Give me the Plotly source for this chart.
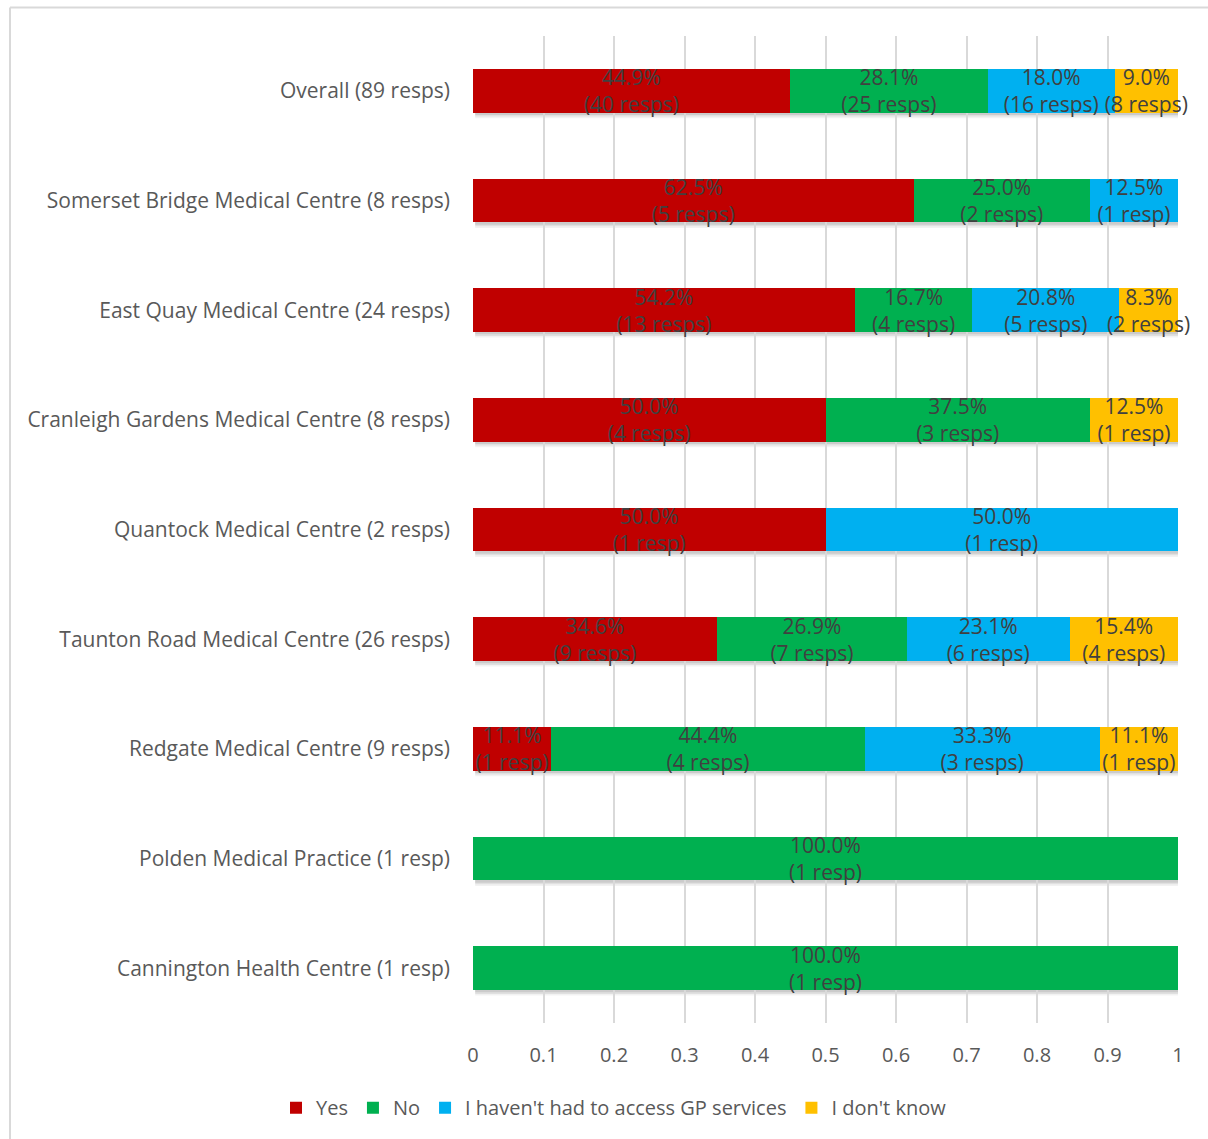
import plotly.graph_objects as go

categories = [
    "Overall (89 resps)",
    "Somerset Bridge Medical Centre (8 resps)",
    "East Quay Medical Centre (24 resps)",
    "Cranleigh Gardens Medical Centre (8 resps)",
    "Quantock Medical Centre (2 resps)",
    "Taunton Road Medical Centre (26 resps)",
    "Redgate Medical Centre (9 resps)",
    "Polden Medical Practice (1 resp)",
    "Cannington Health Centre (1 resp)",
]
totals = [89, 8, 24, 8, 2, 26, 9, 1, 1]
yes_counts = [40, 5, 13, 4, 1, 9, 1, 0, 0]
no_counts = [25, 2, 4, 3, 0, 7, 4, 1, 1]
not_accessed_counts = [16, 1, 5, 0, 1, 6, 3, 0, 0]
dont_know_counts = [8, 0, 2, 1, 0, 4, 1, 0, 0]

series = [
    ("Yes", yes_counts, "#C00000"),
    ("No", no_counts, "#00B050"),
    ("I haven't had to access GP services", not_accessed_counts, "#00B0F0"),
    ("I don't know", dont_know_counts, "#FFC000"),
]
x_ticks = [0, 0.1, 0.2, 0.3, 0.4, 0.5, 0.6, 0.7, 0.8, 0.9, 1]
x_tick_labels = ["0", "0.1", "0.2", "0.3", "0.4", "0.5", "0.6", "0.7", "0.8", "0.9", "1"]

FONT = "Open Sans"
FS = 21
W, H = 1208, 1139
L, R, T, B = 473, 30, 36, 114

fig = go.Figure()
for name, counts, color in series:
    shares = [c / t for c, t in zip(counts, totals)]
    texts = [
        (f"{s*100:.1f}%<br>({c} {'resp' if c == 1 else 'resps'})" if c > 0 else "")
        for s, c in zip(shares, counts)
    ]
    fig.add_trace(go.Bar(
        y=categories, x=shares, name=name, orientation="h",
        marker=dict(color=color, line=dict(width=0)),
        text=texts, textposition="inside", insidetextanchor="middle",
        constraintext="none", textangle=0, cliponaxis=False,
        insidetextfont=dict(family=FONT, size=FS, color="#404040"),
        hoverinfo="skip",
    ))

# soft drop shadows under each bar
shapes = []
for i, t in enumerate(totals):
    for k, (off, a) in enumerate([(0.05, 0.05), (0.035, 0.07), (0.02, 0.09)]):
        shapes.append(dict(type="rect", xref="x", yref="y", layer="below",
                           x0=0.003, x1=1.0 + 0.003, y0=i - 0.2 + off, y1=i + 0.2 + off,
                           fillcolor=f"rgba(0,0,0,{a})", line=dict(width=0)))

# chart border (top and left visible)
ph = H - T - B
pw = W - L - R
shapes.append(dict(type="line", xref="paper", yref="paper",
                   x0=(10 - L) / pw, x1=(W + 20 - L) / pw,
                   y0=(H - B - 7.5) / ph, y1=(H - B - 7.5) / ph,
                   line=dict(color="#D9D9D9", width=2)))
shapes.append(dict(type="line", xref="paper", yref="paper",
                   x0=(10 - L) / pw, x1=(10 - L) / pw,
                   y0=(H - B - 7.5) / ph, y1=-(B + 20) / ph,
                   line=dict(color="#D9D9D9", width=2)))

fig.update_layout(
    width=W, height=H,
    margin=dict(l=L, r=R, t=T, b=B, pad=0),
    barmode="stack", bargap=0.6,
    plot_bgcolor="white", paper_bgcolor="white",
    font=dict(family=FONT, color="#595959", size=FS),
    shapes=shapes,
    showlegend=True,
    legend=dict(orientation="h", x=0.2, xanchor="center", y=-0.066, yanchor="top",
                font=dict(family=FONT, size=FS - 1, color="#595959"),
                traceorder="normal", itemwidth=30, tracegroupgap=0),
    xaxis=dict(range=[0, 1.0], tickvals=x_ticks, ticktext=x_tick_labels,
               showgrid=True, gridcolor="#D9D9D9", gridwidth=1.5,
               zeroline=False, showline=False, ticks="", ticklabelstandoff=18,
               tickfont=dict(family=FONT, size=FS - 1, color="#595959"), fixedrange=True),
    yaxis=dict(categoryorder="array", categoryarray=categories, autorange="reversed",
               showgrid=False, zeroline=False, showline=False, ticks="",
               ticklabelstandoff=22,
               tickfont=dict(family=FONT, size=FS, color="#595959")),
)

fig.write_html("out.html")
